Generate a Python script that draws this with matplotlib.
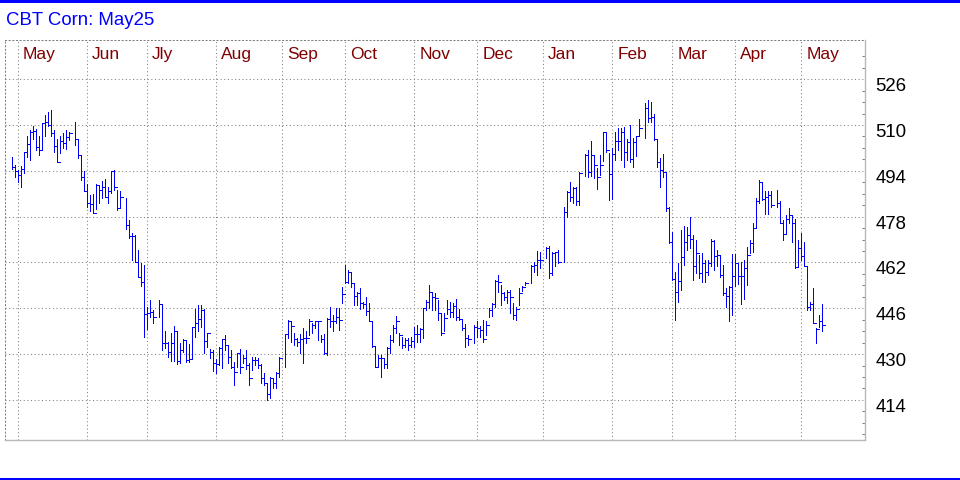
import numpy as np
import pandas as pd
import matplotlib
matplotlib.use('Agg')
import matplotlib.pyplot as plt
from matplotlib.lines import Line2D
from matplotlib.transforms import ScaledTranslation

plt.rcParams['font.family'] = ['Liberation Sans', 'DejaVu Sans']

# trading calendar (bars sit on a weekday axis, holidays leave a gap)
start = '2024-04-29'
end = '2025-05-12'
holidays = ['2024-05-27', '2024-06-19', '2024-07-04', '2024-09-02', '2024-11-28',
            '2024-12-25', '2025-01-01', '2025-01-09', '2025-01-20', '2025-02-17',
            '2025-04-18']

# daily high / low / close (cents/bu)
highs = [
    499.0, 496.1,  # Apr
    494.3, 495.7, 500.7, 506.3, 508.3, 509.8, 508.5, 506.0, 510.6, 513.5, 514.7,
    515.3, 508.3, 505.0, 506.2, 507.1, 508.1, 507.7, 511.2, 505.0, 499.6, 494.0,  # May
    489.4, 485.6, 485.9, 489.4, 489.1, 490.6, 491.1, 488.5, 494.0, 494.3, 487.3,
    486.8, 484.4, 476.9, 472.2, 471.6, 466.4, 461.7, 461.1,  # Jun
    446.6, 448.9, 445.4, 448.9, 447.5, 437.9, 434.4, 437.5, 439.8, 437.9, 433.8,
    435.2, 434.9, 433.5, 439.6, 445.7, 447.2, 447.2, 445.7, 437.5, 431.7, 431.5,  # Jul
    428.2, 432.4, 435.2, 436.7, 433.2, 431.5, 427.4, 430.3, 431.7, 429.7, 431.5,
    426.8, 429.1, 429.1, 428.5, 426.6, 423.5, 419.8, 422.1, 421.6, 423.9, 429.1,  # Aug
    436.9, 441.9, 441.4, 437.5, 435.5, 437.0, 439.0, 438.0, 442.2, 441.0, 441.7,
    441.7, 436.7, 437.0, 442.5, 446.6, 443.7, 446.0, 446.0, 453.6,  # Sep
    461.1, 459.2, 458.8, 454.7, 451.8, 453.0, 448.3, 450.1, 447.7, 441.4, 432.6,
    429.7, 429.7, 428.5, 432.4, 436.7, 440.2, 443.3, 437.3, 436.1, 435.5, 435.5,
    436.1,  # Oct
    439.6, 440.2, 439.0, 446.0, 448.9, 454.2, 451.8, 451.2, 448.9, 444.0, 444.5,
    448.9, 448.3, 448.0, 449.2, 445.7, 442.2, 440.5, 436.7, 440.2,  # Nov
    441.4, 439.8, 441.9, 441.4, 446.0, 447.8, 455.9, 457.6, 454.2, 451.8, 452.4,
    452.4, 448.0, 446.4, 453.0, 453.8, 455.3, 461.1, 462.3, 466.0, 465.8,  # Dec
    467.3, 467.8, 465.5, 465.8, 466.4, 481.5, 486.8, 490.2, 488.3, 488.3, 493.7,
    499.9, 501.3, 504.6, 499.6, 494.9, 499.6, 507.7, 507.4, 500.1,  # Jan
    502.0, 507.7, 508.9, 508.9, 509.2, 505.0, 510.0, 505.4, 506.3, 512.1, 517.6,
    518.8, 518.2, 513.9, 505.0, 498.4, 499.9, 493.7, 481.5,  # Feb
    472.8, 458.8, 461.7, 473.4, 474.8, 474.5, 477.8, 471.6, 469.9, 464.6, 465.4,
    462.9, 462.9, 470.1, 469.9, 466.4, 464.6, 461.1, 453.0, 453.8, 465.0,  # Mar
    465.0, 461.9, 462.3, 462.9, 467.3, 469.9, 475.7, 484.4, 490.8, 490.2, 487.1,
    486.8, 486.8, 487.3, 483.3, 476.9, 478.6, 480.9, 478.6, 477.1, 469.9,  # Apr
    472.4, 469.0, 460.8, 448.3, 453.0, 439.0, 443.7, 447.5,  # May
]
lows = [
    494.7, 491.8,
    490.2, 488.3, 493.4, 499.0, 497.8, 505.0, 501.3, 499.6, 501.5, 506.0, 509.5,
    506.0, 500.7, 497.2, 500.4, 501.9, 501.5, 504.8, 503.0, 498.4, 490.8, 486.8,
    481.3, 480.1, 479.4, 480.6, 482.9, 484.4, 484.8, 482.7, 486.2, 487.3, 480.4,
    480.9, 473.7, 470.5, 462.9, 462.0, 457.1, 453.8, 435.9,
    438.7, 443.1, 440.8, 443.1, 431.5, 432.0, 428.9, 427.7, 427.7, 426.6, 426.8,
    430.9, 427.4, 427.4, 428.2, 436.1, 437.9, 439.4, 430.5, 432.6, 428.5, 424.2,
    423.3, 426.2, 425.1, 431.5, 426.8, 425.0, 419.2, 425.4, 423.3, 426.8, 424.7,
    419.2, 424.5, 426.2, 425.0, 419.8, 419.2, 414.0, 414.6, 418.1, 418.1, 422.1,
    425.6, 435.5, 434.4, 433.2, 432.9, 430.5, 427.0, 434.0, 436.7, 437.3, 439.0,
    434.9, 434.4, 430.1, 429.7, 439.6, 437.9, 440.8, 438.5, 447.8,
    454.7, 454.7, 453.6, 447.2, 447.2, 445.7, 446.0, 443.7, 441.4, 432.6, 425.6,
    425.6, 421.9, 425.0, 425.0, 430.3, 434.4, 437.3, 433.2, 432.0, 432.4, 431.5,
    432.6,
    432.6, 434.4, 434.4, 435.5, 445.4, 446.0, 445.4, 445.4, 442.0, 436.7, 437.9,
    444.0, 443.1, 443.0, 442.0, 442.0, 438.4, 432.4, 433.2, 434.0,
    436.1, 435.9, 434.4, 436.7, 443.1, 443.3, 446.6, 451.8, 447.2, 448.9, 447.8,
    444.3, 442.2, 442.0, 447.2, 452.2, 454.2, 454.7, 458.8, 457.5, 460.0,
    463.5, 456.5, 457.7, 460.6, 461.7, 462.3, 478.0, 483.3, 482.7, 482.1, 482.1,
    492.2, 492.0, 492.2, 491.4, 487.6, 492.6, 497.5, 500.7, 483.8,
    484.1, 497.8, 501.3, 497.8, 495.3, 497.8, 497.2, 495.2, 499.2, 506.0, 505.4,
    510.9, 511.2, 504.8, 495.3, 488.3, 492.0, 480.1, 468.7,
    455.9, 441.9, 448.3, 452.4, 461.1, 466.4, 467.0, 455.9, 458.2, 456.5, 455.3,
    455.3, 457.7, 460.6, 459.2, 460.8, 456.8, 450.7, 446.6, 441.7, 443.7,
    453.8, 454.5, 447.5, 449.1, 454.1, 465.4, 465.8, 473.9, 482.9, 483.8, 479.0,
    479.0, 481.5, 481.5, 475.7, 469.9, 472.2, 475.7, 469.3, 460.0, 460.3,
    462.9, 460.8, 445.4, 445.4, 440.8, 433.8, 439.4, 438.2,
]
closes = [
    495.5, 494.0,
    492.6, 494.5, 500.7, 503.4, 507.7, 508.0, 502.2, 501.3, 510.6, 511.2, 510.0,
    507.1, 502.7, 497.2, 504.6, 503.9, 505.7, 507.1, 505.0, 499.6, 491.8, 486.8,
    482.9, 482.4, 479.4, 489.1, 487.3, 488.3, 484.8, 486.8, 493.8, 488.3, 480.9,
    485.0, 475.1, 471.3, 471.3, 462.0, 457.1, 455.3, 444.0,
    444.3, 444.6, 443.1, 447.5, 433.8, 433.8, 430.9, 434.0, 438.2, 427.7, 431.5,
    434.9, 427.9, 428.2, 439.6, 441.0, 442.2, 445.4, 434.7, 437.3, 430.9, 427.0,
    426.6, 432.0, 435.2, 433.2, 428.9, 425.6, 423.9, 430.3, 425.6, 428.5, 426.2,
    421.8, 428.0, 428.0, 426.2, 421.6, 419.8, 416.1, 421.6, 419.8, 423.5, 428.5,
    436.9, 441.4, 439.9, 435.2, 434.4, 435.2, 435.5, 435.5, 441.7, 440.2, 441.4,
    441.7, 435.2, 430.5, 442.2, 441.4, 441.4, 443.1, 441.9, 451.0,
    455.3, 458.5, 454.7, 450.3, 451.5, 447.8, 447.5, 445.2, 441.7, 432.9, 425.6,
    428.5, 428.5, 426.6, 432.0, 434.9, 439.0, 441.4, 436.7, 433.2, 434.9, 433.2,
    434.7,
    437.0, 437.0, 438.7, 446.0, 448.3, 451.8, 450.1, 449.5, 444.3, 437.5, 442.5,
    445.6, 444.8, 446.8, 443.1, 442.2, 439.0, 435.5, 435.3, 439.6,
    439.0, 438.4, 435.2, 440.2, 445.4, 447.5, 455.7, 455.3, 451.5, 449.9, 451.8,
    450.1, 443.7, 445.6, 451.2, 453.3, 455.0, 460.6, 461.2, 463.0, 463.0,
    466.9, 458.2, 465.2, 465.5, 462.3, 479.8, 486.5, 485.0, 487.9, 483.3, 493.2,
    499.6, 493.7, 499.6, 496.1, 492.0, 496.1, 507.7, 501.3, 492.8,
    499.9, 504.6, 504.6, 507.7, 500.7, 504.0, 498.0, 504.0, 506.2, 508.9, 515.9,
    512.4, 512.7, 505.0, 497.2, 494.3, 493.7, 480.9, 469.3,
    456.1, 451.8, 455.5, 464.0, 469.3, 471.6, 470.1, 460.6, 465.4, 458.2, 461.7,
    458.6, 461.7, 469.6, 464.3, 464.6, 457.6, 451.2, 450.3, 453.6, 457.3,
    461.7, 457.3, 457.3, 460.0, 464.6, 468.9, 473.9, 483.3, 490.2, 484.1, 484.8,
    485.6, 482.1, 482.9, 475.9, 472.0, 477.1, 478.6, 475.7, 460.3, 467.0,
    464.3, 460.8, 446.6, 447.5, 440.8, 438.7, 441.4, 440.2,
]

month_labels = ['May', 'Jun', 'Jly', 'Aug', 'Sep', 'Oct', 'Nov', 'Dec',
                'Jan', 'Feb', 'Mar', 'Apr', 'May']
y_ticks = [414, 430, 446, 462, 478, 494, 510, 526]

# x position = weekday index counted from the first bar
dates = pd.bdate_range(start, end)
dates = dates[~dates.isin(pd.to_datetime(holidays))]
x = np.busday_count(np.datetime64(start), dates.values.astype('datetime64[D]'))
month_starts = pd.date_range('2024-05-01', '2025-05-01', freq='BMS')
mx = np.busday_count(np.datetime64(start), month_starts.values.astype('datetime64[D]'))

fig = plt.figure(figsize=(9.6, 4.8), dpi=100)
ax = fig.add_axes([5 / 960, 40 / 480, 860 / 960, 400 / 480])

grid_kw = dict(color='#808080', lw=0.75, ls=(0, (1, 2.5)), zorder=0)
for yv in y_ticks:
    ax.axhline(yv, **grid_kw)
for xv in mx:
    ax.axvline(xv, **grid_kw)

# HLC bars: high-low line plus close tick to the right
ax.vlines(x, lows, highs, color='#0000ff', lw=0.72, antialiased=False, zorder=3)
ax.hlines(closes, x, x + 0.8, color='#0000ff', lw=0.72, antialiased=False, zorder=3)

ax.set_xlim(-2.43, 284.2)
ax.set_ylim(400, 539.7)

for xv, lab in zip(mx, month_labels):
    ax.text(xv + 1.6, 0.964, lab, transform=ax.get_xaxis_transform(),
            color='#800000', fontsize=12.5, va='center', ha='left')

ax.set_xticks([])
ax.yaxis.tick_right()
ax.set_yticks(y_ticks)
ax.set_yticks(np.arange(402, 538, 4), minor=True)
ax.tick_params(axis='y', which='major', length=0, pad=7.5, labelsize=13.4)
ax.tick_params(axis='y', which='minor', direction='in', length=2.5,
               color='#808080', width=0.75)
shift = ScaledTranslation(0, -0.055, fig.dpi_scale_trans)
for lbl in ax.get_yticklabels():
    lbl.set_transform(lbl.get_transform() + shift)

for side in ['left', 'top']:
    ax.spines[side].set_color('#808080')
    ax.spines[side].set_linestyle((0, (1, 2.5)))
    ax.spines[side].set_linewidth(0.75)
for side in ['right', 'bottom']:
    ax.spines[side].set_color('#b8b8b8')
    ax.spines[side].set_linewidth(1.0)

fig.text(6 / 960, 1 - 20.5 / 480, 'CBT Corn: May25', color='#0000ff',
         fontsize=13.4, va='center', ha='left')
fig.add_artist(Line2D([0, 1], [1 - 1.3 / 480, 1 - 1.3 / 480], color='#0000ff',
                      lw=2.2, transform=fig.transFigure))
fig.add_artist(Line2D([0, 1], [1.5 / 480, 1.5 / 480], color='#0000ff',
                      lw=2.2, transform=fig.transFigure))

fig.savefig('out.png', dpi=100)
